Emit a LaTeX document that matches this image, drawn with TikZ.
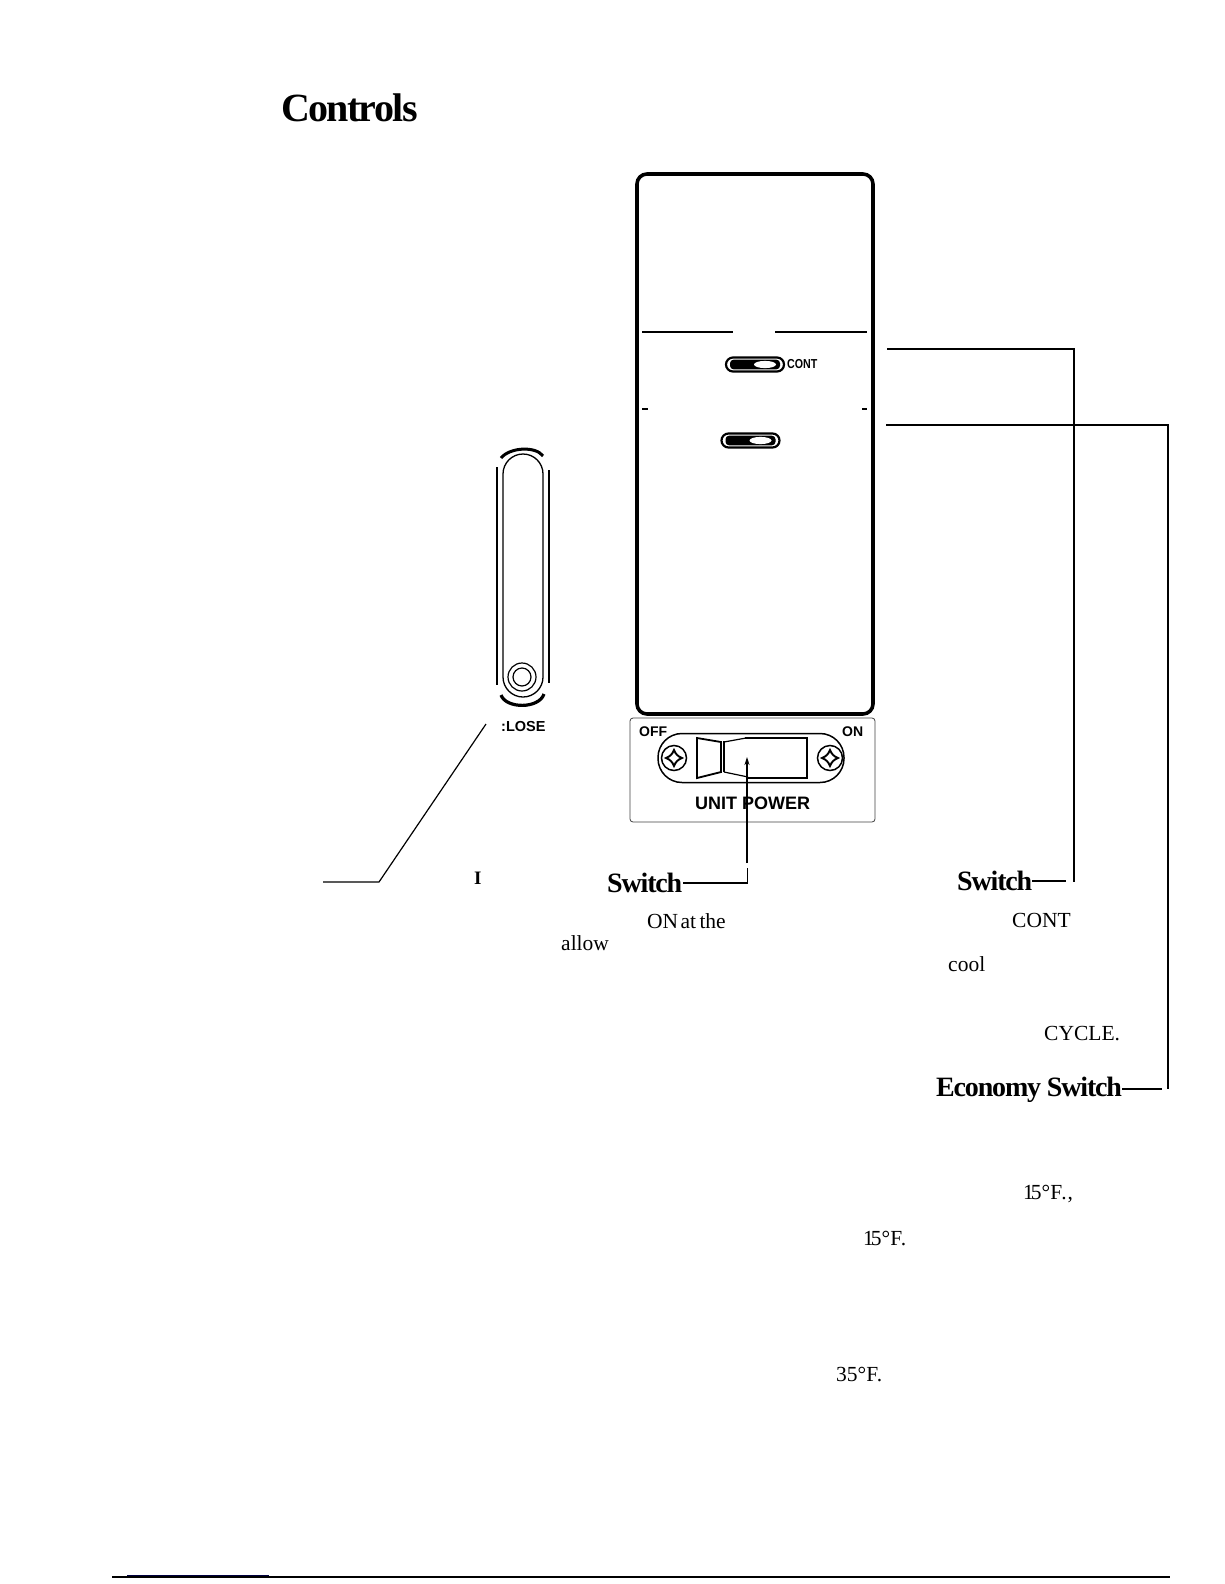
\documentclass[tikz,border=0pt]{standalone}
\usepackage{fontspec}
\setmainfont{Liberation Serif}
\setsansfont{Liberation Sans}
\newfontfamily\tightserif{Liberation Serif}[LetterSpace=-4.2]
\newfontfamily\semitight{Liberation Serif}[LetterSpace=-4.2]
\usetikzlibrary{arrows.meta}
\tikzset{
  x=1pt,y=-1pt,
  leader/.style={line width=1.2pt,draw=black},
  bodytext/.style={inner sep=0pt,anchor=base west,font=\fontsize{21.5}{24}\selectfont},
  headtext/.style={inner sep=0pt,anchor=base west,font=\fontsize{28}{30}\selectfont\semitight\bfseries},
  paneltext/.style={inner sep=0pt,font=\fontsize{13.5}{15}\selectfont\sffamily},
  outline/.style={line width=1.5pt,draw=black},
  sliderknob/.pic={
    \draw[line width=2.2pt,rounded corners=7pt,fill=white] (-29,-7) rectangle (29,7);
    \fill[black,rounded corners=3.5pt] (-25,-4.8) rectangle (25,4.8);
    \fill[white] (10,0) ellipse (11 and 3.6);
  },
  screwhead/.pic={
    \draw[line width=1.5pt] (0,0) circle (12.5);
    \draw[line width=1.9pt,fill=white]
      (-8,0) .. controls (-4,-1.5) and (-1.5,-4) .. (0,-8)
      .. controls (1.5,-4) and (4,-1.5) .. (8,0)
      .. controls (4,1.5) and (1.5,4) .. (0,8)
      .. controls (-1.5,4) and (-4,1.5) .. (-8,0) -- cycle;
  },
}
\begin{document}
\begin{tikzpicture}
\useasboundingbox (0,0) rectangle (1224,1584);

% ---- title
\node[inner sep=0pt,anchor=base west,font=\fontsize{40}{42}\selectfont\tightserif\bfseries] (title) at (281,122) {Controls};

% ---- main control panel
\draw[line width=3.6pt,rounded corners=10pt] (637,174) rectangle (873,714);
\draw[line width=1.7pt] (642,332) -- (733,332);
\draw[line width=1.2pt] (775,332) -- (867,332);
\draw[line width=1.4pt] (642,409) -- (648,409);
\draw[line width=1.4pt] (862,409) -- (867,409);
\pic at (755,364.5) {sliderknob};
\pic at (750.5,440.5) {sliderknob};
\node[paneltext,anchor=west,font=\fontsize{13}{14}\selectfont\sffamily\bfseries] (contmark) at (787,364) {\addfontfeature{FakeStretch=0.82}CONT};

% ---- unit power plate
\draw[line width=0.8pt,draw=black!75,rounded corners=3pt] (630,718) rectangle (875,822);
\node[paneltext,anchor=base west,font=\fontsize{14}{15}\selectfont\sffamily\bfseries] (offmark) at (639,736) {OFF};
\node[paneltext,anchor=base west,font=\fontsize{14}{15}\selectfont\sffamily\bfseries] (onmark) at (842,736) {ON};
\draw[outline,rounded corners=24pt] (658,733.5) rectangle (844,782.5);
\pic at (674,758) {screwhead};
\pic at (830,758) {screwhead};
\fill[white] (696,737) rectangle (808,779);
\draw[line width=1.8pt] (697,738) -- (721,742) -- (721,772) -- (697,778) -- cycle;
\draw[line width=1.4pt] (724,741) -- (724,772);
\draw[line width=1.2pt] (724,742) -- (746,738);
\draw[line width=1.2pt] (724,772) -- (748,777);
\draw[line width=2.4pt] (745,738) -- (807,738) -- (807,778) -- (748,778);
\node[paneltext,anchor=base west,font=\fontsize{18}{20}\selectfont\sffamily\bfseries] (unitpower) at (695,809) {UNIT POWER};

% ---- side view of the lever
\draw[line width=2.2pt] (497,467) -- (497,685);
\draw[line width=2.2pt] (549,470) -- (549,683);
\draw[line width=1.3pt] (503,677) -- (503,474) arc[start angle=180,end angle=360,x radius=20,y radius=20] -- (543,677) arc[start angle=0,end angle=180,x radius=20,y radius=20];
\draw[line width=3pt] (501,458) .. controls (510,447) and (536,446) .. (543,456);
\draw[line width=3.2pt] (501,695) .. controls (506,709) and (539,709) .. (544,694);
\draw[line width=1.2pt] (522,677) circle (14);
\draw[line width=1.2pt] (522,677) circle (9);
\node[paneltext,anchor=base west,font=\fontsize{14.5}{16}\selectfont\sffamily\bfseries] (closemark) at (501,731) {:LOSE};

% ---- text labels
\node[inner sep=0pt,anchor=base west,font=\fontsize{19}{20}\selectfont\bfseries] (fragment) at (474,884) {I};
\node[headtext] (switchpower) at (607,892) {Switch};
\node[headtext] (switchfan) at (957,890) {Switch};
\node[headtext] (economy) at (936,1096) {Economy Switch};
\node[bodytext] (onatthe) at (647,928) {ON\kern-3pt\ at\kern-2pt\ the};
\node[bodytext] at (561,950) (allow) {allow};
\node[bodytext] (conttext) at (1012,927) {CONT};
\node[bodytext] (cool) at (948,971) {cool};
\node[bodytext] (cycle) at (1044,1040) {CYCLE.};
\node[bodytext] (tempa) at (1023,1199) {1\kern-3pt 5°F\kern-1pt.\kern1pt,};
\node[bodytext] (tempb) at (863,1245) {1\kern-3pt 5°F\kern-1.5pt.};
\node[bodytext] (tempc) at (836,1381) {35°F\kern-1.5pt.};

% ---- connector points
\coordinate (powertip) at (747,757);
\coordinate (powerbreak) at (747,863);
\coordinate (powerresume) at (747.5,868);
\coordinate (powercorner) at (747.5,883);
\coordinate (fanstart) at (887,349);
\coordinate (fancorner) at (1074,349);
\coordinate (fanend) at (1074,882);
\coordinate (fanstub) at (1066,881);
\coordinate (ecostart) at (886,425);
\coordinate (ecocorner) at (1168,425);
\coordinate (ecoend) at (1168,1089);
\coordinate (ecostub) at (1162,1089);
\coordinate (lockstart) at (486,724);
\coordinate (lockknee) at (379,882);
\coordinate (lockend) at (323,882);

% ---- connectors
\draw[line width=1.3pt,-{Stealth[length=8pt,width=5pt]}] (powerbreak) -- (powertip);
\draw[leader] (switchpower.east |- powercorner) ++(1,0) -- (powercorner) -- (powerresume);
\draw[leader] (fanstart) -- (fancorner) -- (fanend);
\draw[leader,line width=1.5pt] (switchfan.east |- fanstub) -- (fanstub);
\draw[leader,line width=1.6pt] (ecostart) -- (ecocorner) -- (ecoend);
\draw[leader,line width=1.5pt] (economy.east |- ecostub) -- (ecostub);
\draw[leader] (lockstart) -- (lockknee) -- (lockend);

% ---- foot rule
\draw[line width=1.3pt] (112,1577) -- (1170,1577);
\draw[line width=1.3pt,draw=blue!25!black] (127,1575.8) -- (269,1575.8);
\end{tikzpicture}
\end{document}
